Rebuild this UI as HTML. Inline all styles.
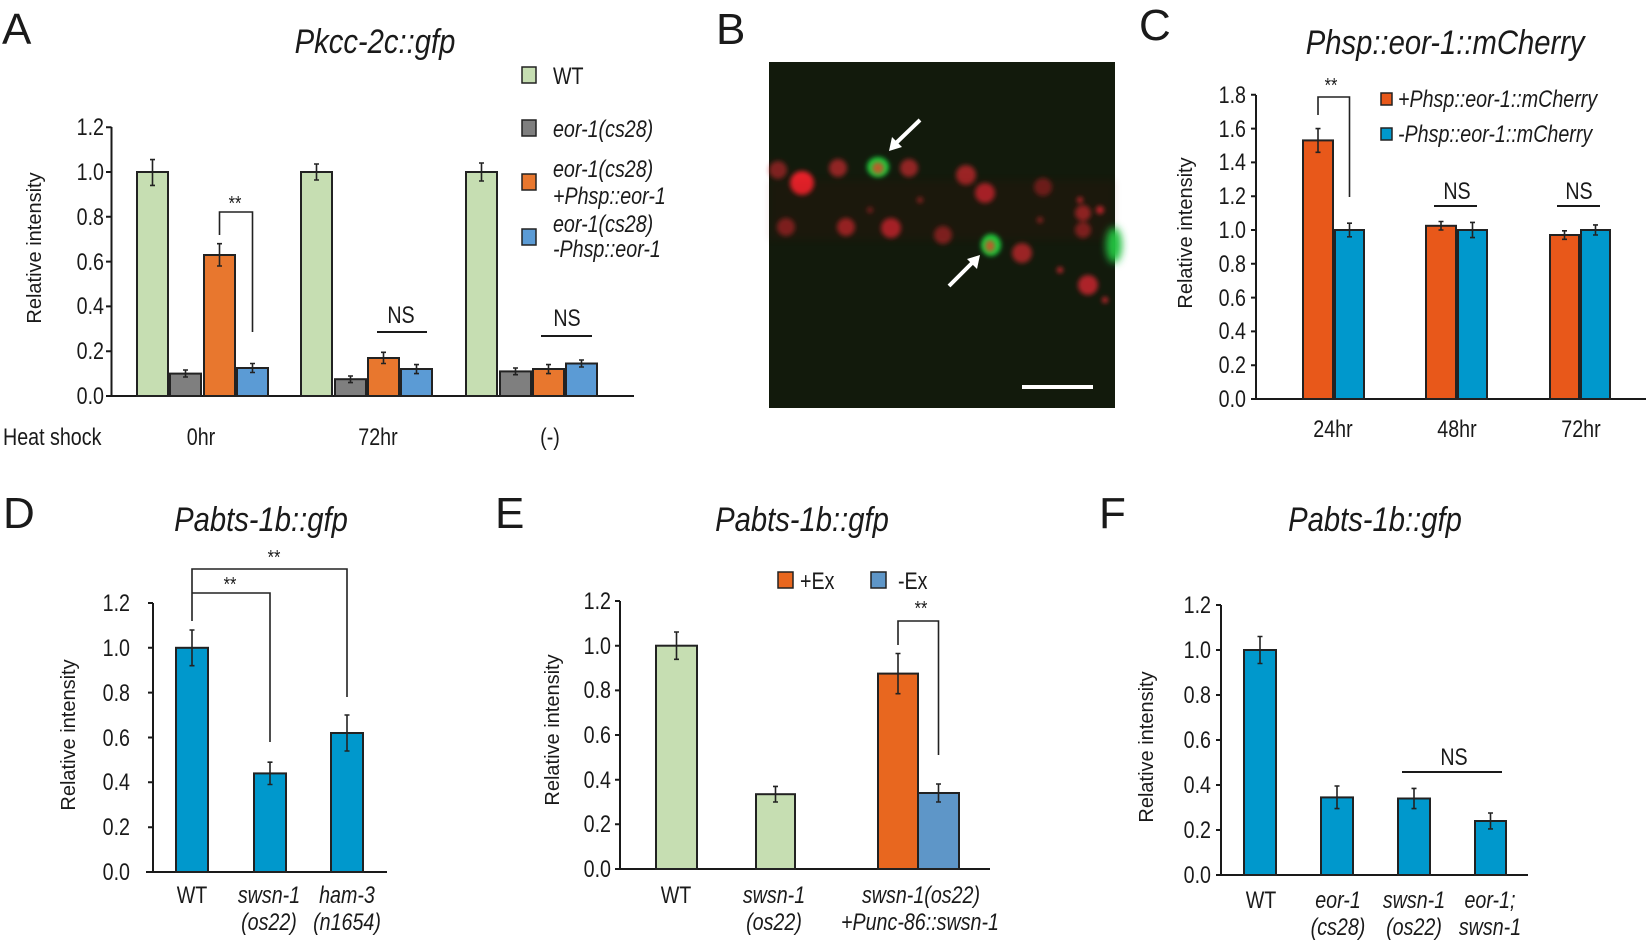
<!DOCTYPE html>
<html><head><meta charset="utf-8"><style>
html,body{margin:0;padding:0;background:#fff}
svg{display:block}
text{font-family:"Liberation Sans Narrow","Liberation Sans",sans-serif;fill:#1a1a1a}
.t,.ts,.te{font-size:24px;transform-box:fill-box;transform:scaleX(.82)}
.t{transform-origin:center}
.ts{transform-origin:left center}
.te{transform-origin:right center}
.i{font-style:italic}
.ttl{font-size:34px;font-style:italic;transform-box:fill-box;transform-origin:center;transform:scaleX(.86)}
.big{font-family:"Liberation Sans",sans-serif;font-size:44px}
.yl{font-family:"Liberation Sans",sans-serif;font-size:20px}
.ax{stroke:#1a1a1a;stroke-width:2;fill:none}
.b{stroke:#222;stroke-width:2}
.e{stroke:#222;stroke-width:1.6;fill:none}
.br{stroke:#222;stroke-width:1.6;fill:none}
</style></head><body>
<svg width="1650" height="945" viewBox="0 0 1650 945" xmlns="http://www.w3.org/2000/svg">
<defs>
<filter id="bl" x="-50%" y="-50%" width="200%" height="200%"><feGaussianBlur stdDeviation="2.5"/></filter>
<filter id="bl2" x="-50%" y="-50%" width="200%" height="200%"><feGaussianBlur stdDeviation="4"/></filter>
</defs>

<!-- ===== Panel A ===== -->
<text class="big" x="2" y="44">A</text>
<text class="ttl" x="375" y="53" text-anchor="middle">Pkcc-2c::gfp</text>
<text class="yl" transform="translate(41,248) rotate(-90)" text-anchor="middle">Relative intensity</text>
<path class="ax" d="M111.5,127 V396 M109,396 H634"/>
<path class="ax" d="M106,396H111.5M106,351.2H111.5M106,306.4H111.5M106,261.6H111.5M106,216.8H111.5M106,172H111.5M106,127.2H111.5"/>
<g text-anchor="end">
<text class="te" x="104" y="404">0.0</text><text class="te" x="104" y="359">0.2</text><text class="te" x="104" y="314">0.4</text><text class="te" x="104" y="270">0.6</text><text class="te" x="104" y="225">0.8</text><text class="te" x="104" y="180">1.0</text><text class="te" x="104" y="135">1.2</text>
</g>
<g class="b">
<rect x="137" y="172" width="31" height="224" fill="#c6deb2"/>
<rect x="170" y="373.6" width="31" height="22.4" fill="#7f7f7f"/>
<rect x="204" y="255" width="31" height="141" fill="#e8772e"/>
<rect x="237" y="368" width="31" height="28" fill="#5b9bd5"/>
<rect x="301" y="172" width="31" height="224" fill="#c6deb2"/>
<rect x="335" y="379.2" width="31" height="16.8" fill="#7f7f7f"/>
<rect x="368" y="358" width="31" height="38" fill="#e8772e"/>
<rect x="401" y="369" width="31" height="27" fill="#5b9bd5"/>
<rect x="466" y="172" width="31" height="224" fill="#c6deb2"/>
<rect x="500" y="371.4" width="31" height="24.6" fill="#7f7f7f"/>
<rect x="533" y="369" width="31" height="27" fill="#e8772e"/>
<rect x="566" y="363.5" width="31" height="32.5" fill="#5b9bd5"/>
</g>
<path class="e" d="M152.5,159.6V185.4M150,159.6h5M150,185.4h5
M185.5,370V377M183,370h5M183,377h5
M219.5,243.7V266M217,243.7h5M217,266h5
M252.5,363.5V372.5M250,363.5h5M250,372.5h5
M316.5,164V180M314,164h5M314,180h5
M350.5,376V382.6M348,376h5M348,382.6h5
M383.5,352.3V363.5M381,352.3h5M381,363.5h5
M416.5,364.6V373.6M414,364.6h5M414,373.6h5
M481.5,163V181M479,163h5M479,181h5
M515.5,368V374.7M513,368h5M513,374.7h5
M548.5,364.6V373.6M546,364.6h5M546,373.6h5
M581.5,360V367M579,360h5M579,367h5"/>
<path class="br" d="M219.5,235V212H252.5V332"/>
<text class="t" x="235" y="210" text-anchor="middle" style="font-size:20px">**</text>
<path class="ax" d="M377,332H427M541,336H592"/>
<text class="t" x="401" y="323" text-anchor="middle">NS</text>
<text class="t" x="567" y="326" text-anchor="middle">NS</text>
<text class="ts" x="3" y="445">Heat shock</text>
<text class="t" x="201" y="445" text-anchor="middle">0hr</text>
<text class="t" x="378" y="445" text-anchor="middle">72hr</text>
<text class="t" x="550" y="445" text-anchor="middle">(-)</text>
<g class="b" style="stroke-width:1.5">
<rect x="522" y="67" width="14" height="16" fill="#c6deb2"/>
<rect x="522" y="120" width="14" height="16" fill="#7f7f7f"/>
<rect x="522" y="174" width="14" height="16" fill="#e8772e"/>
<rect x="522" y="229" width="14" height="16" fill="#5b9bd5"/>
</g>
<text class="ts" x="553" y="84">WT</text>
<text class="ts i" x="553" y="137">eor-1(cs28)</text>
<text class="ts i" x="553" y="177">eor-1(cs28)</text>
<text class="ts i" x="553" y="204">+Phsp::eor-1</text>
<text class="ts i" x="553" y="232">eor-1(cs28)</text>
<text class="ts i" x="553" y="257">-Phsp::eor-1</text>

<!-- ===== Panel B ===== -->
<text class="big" x="716" y="44">B</text>
<rect x="769" y="62" width="346" height="346" fill="#121a0c"/>
<g filter="url(#bl)" fill="#c8262e">
<circle cx="778" cy="170" r="9" opacity=".6"/>
<circle cx="802" cy="183" r="12" fill="#e8202a"/>
<circle cx="786" cy="227" r="9" opacity=".6"/>
<circle cx="838" cy="168" r="9" opacity=".7"/>
<circle cx="909" cy="168" r="9" opacity=".7"/>
<circle cx="966" cy="175" r="10" opacity=".75"/>
<circle cx="985" cy="193" r="10" opacity=".85"/>
<circle cx="1043" cy="187" r="9" opacity=".5"/>
<circle cx="846" cy="227" r="9" opacity=".75"/>
<circle cx="891" cy="228" r="10" opacity=".85"/>
<circle cx="943" cy="235" r="9" opacity=".6"/>
<circle cx="1022" cy="253" r="10" opacity=".75"/>
<circle cx="1083" cy="230" r="8" opacity=".6"/>
<circle cx="1083" cy="213" r="8" opacity=".7"/>
<circle cx="1088" cy="285" r="10" opacity=".85"/>
<circle cx="1100" cy="210" r="4"/>
<circle cx="1080" cy="200" r="3"/>
<circle cx="1060" cy="270" r="3"/>
<circle cx="1040" cy="220" r="3" opacity=".7"/>
<circle cx="920" cy="200" r="3" opacity=".7"/>
<circle cx="870" cy="210" r="3" opacity=".6"/>
<circle cx="1105" cy="300" r="3"/>
</g>
<rect x="769" y="180" width="346" height="60" fill="#6a1010" opacity=".1" filter="url(#bl2)"/>
<g>
<ellipse cx="878" cy="167" rx="11" ry="10" fill="#1ec83a" filter="url(#bl)"/>
<ellipse cx="878" cy="168" rx="6" ry="6" fill="#b8602a" filter="url(#bl)"/>
<ellipse cx="991" cy="245" rx="10" ry="11" fill="#1ec83a" filter="url(#bl)"/>
<ellipse cx="990" cy="246" rx="5" ry="6" fill="#b8602a" filter="url(#bl)"/>
<ellipse cx="1114" cy="245" rx="8" ry="18" fill="#20c040" filter="url(#bl2)"/>
</g>
<path d="M920,120L894,145" stroke="#fff" stroke-width="4"/>
<path d="M889,151l3,-14l10,10z" fill="#fff"/>
<path d="M949,286L974,261" stroke="#fff" stroke-width="4"/>
<path d="M980,255l-3,14l-10,-10z" fill="#fff"/>
<rect x="1022" y="385" width="71" height="4" fill="#fff"/>

<!-- ===== Panel C ===== -->
<text class="big" x="1139" y="40">C</text>
<text class="ttl" x="1445" y="54" text-anchor="middle">Phsp::eor-1::mCherry</text>
<text class="yl" transform="translate(1192,233) rotate(-90)" text-anchor="middle">Relative intensity</text>
<path class="ax" d="M1256,95V399M1254,399H1646"/>
<path class="ax" d="M1251,399h5M1251,365.2h5M1251,331.4h5M1251,297.6h5M1251,263.8h5M1251,230h5M1251,196.2h5M1251,162.4h5M1251,128.6h5M1251,94.8h5"/>
<g text-anchor="end">
<text class="te" x="1246" y="407">0.0</text><text class="te" x="1246" y="373">0.2</text><text class="te" x="1246" y="339">0.4</text><text class="te" x="1246" y="306">0.6</text><text class="te" x="1246" y="272">0.8</text><text class="te" x="1246" y="238">1.0</text><text class="te" x="1246" y="204">1.2</text><text class="te" x="1246" y="170">1.4</text><text class="te" x="1246" y="137">1.6</text><text class="te" x="1246" y="103">1.8</text>
</g>
<g class="b">
<rect x="1303" y="140.4" width="30" height="258.6" fill="#e8581a"/>
<rect x="1335" y="230" width="29" height="169" fill="#0098cc"/>
<rect x="1426" y="225.8" width="30" height="173.2" fill="#e8581a"/>
<rect x="1458" y="230" width="29" height="169" fill="#0098cc"/>
<rect x="1550" y="235" width="29" height="164" fill="#e8581a"/>
<rect x="1581" y="230" width="29" height="169" fill="#0098cc"/>
</g>
<path class="e" d="M1318,128.6V152.3M1315.5,128.6h5M1315.5,152.3h5
M1349.5,223.2V236.8M1347,223.2h5M1347,236.8h5
M1441,221.5V230M1438.5,221.5h5M1438.5,230h5
M1472.5,222.4V237.6M1470,222.4h5M1470,237.6h5
M1564.5,230.8V239.3M1562,230.8h5M1562,239.3h5
M1595.5,224.9V235M1593,224.9h5M1593,235h5"/>
<path class="br" d="M1318,115V97H1349.5V197"/>
<text class="t" x="1331" y="92" text-anchor="middle" style="font-size:20px">**</text>
<path class="ax" d="M1434,206H1477M1557,206H1600"/>
<text class="t" x="1457" y="199" text-anchor="middle">NS</text>
<text class="t" x="1579" y="199" text-anchor="middle">NS</text>
<g class="b" style="stroke-width:1.5">
<rect x="1381" y="93" width="11" height="12" fill="#e8581a"/>
<rect x="1381" y="128" width="11" height="12" fill="#0098cc"/>
</g>
<text class="ts i" x="1398" y="107">+Phsp::eor-1::mCherry</text>
<text class="ts i" x="1398" y="142">-Phsp::eor-1::mCherry</text>
<text class="t" x="1333" y="437" text-anchor="middle">24hr</text>
<text class="t" x="1457" y="437" text-anchor="middle">48hr</text>
<text class="t" x="1581" y="437" text-anchor="middle">72hr</text>

<!-- ===== Panel D ===== -->
<text class="big" x="3" y="528">D</text>
<text class="ttl" x="261" y="531" text-anchor="middle">Pabts-1b::gfp</text>
<text class="yl" transform="translate(75,735) rotate(-90)" text-anchor="middle">Relative intensity</text>
<path class="ax" d="M153,603V872M146,872H387"/>
<path class="ax" d="M148,872h5M148,827.2h5M148,782.3h5M148,737.5h5M148,692.6h5M148,647.8h5M148,603h5"/>
<g text-anchor="end">
<text class="te" x="130" y="880">0.0</text><text class="te" x="130" y="835">0.2</text><text class="te" x="130" y="790">0.4</text><text class="te" x="130" y="746">0.6</text><text class="te" x="130" y="701">0.8</text><text class="te" x="130" y="656">1.0</text><text class="te" x="130" y="611">1.2</text>
</g>
<g class="b">
<rect x="176" y="647.8" width="32" height="224.2" fill="#0098cc"/>
<rect x="254" y="773.4" width="32" height="98.6" fill="#0098cc"/>
<rect x="331" y="733" width="32" height="139" fill="#0098cc"/>
</g>
<path class="e" d="M192,630V665.7M189.5,630h5M189.5,665.7h5
M270,762.2V784.5M267.5,762.2h5M267.5,784.5h5
M347,715V751M344.5,715h5M344.5,751h5"/>
<path class="br" d="M192,621V569H347V697M192,593H270V742"/>
<text class="t" x="230" y="591" text-anchor="middle" style="font-size:20px">**</text>
<text class="t" x="274" y="564" text-anchor="middle" style="font-size:20px">**</text>
<text class="t" x="192" y="903" text-anchor="middle">WT</text>
<text class="t i" x="269" y="903" text-anchor="middle">swsn-1</text>
<text class="t i" x="269" y="930" text-anchor="middle">(os22)</text>
<text class="t i" x="347" y="903" text-anchor="middle">ham-3</text>
<text class="t i" x="347" y="930" text-anchor="middle">(n1654)</text>

<!-- ===== Panel E ===== -->
<text class="big" x="495" y="528">E</text>
<text class="ttl" x="802" y="531" text-anchor="middle">Pabts-1b::gfp</text>
<text class="yl" transform="translate(559,730) rotate(-90)" text-anchor="middle">Relative intensity</text>
<path class="ax" d="M620,601V869M616,869H990"/>
<path class="ax" d="M615,869h5M615,824.3h5M615,779.7h5M615,735h5M615,690.4h5M615,645.7h5M615,601h5"/>
<g text-anchor="end">
<text class="te" x="611" y="877">0.0</text><text class="te" x="611" y="832">0.2</text><text class="te" x="611" y="788">0.4</text><text class="te" x="611" y="743">0.6</text><text class="te" x="611" y="698">0.8</text><text class="te" x="611" y="654">1.0</text><text class="te" x="611" y="609">1.2</text>
</g>
<g class="b">
<rect x="656" y="645.7" width="41" height="223.3" fill="#c6deb2"/>
<rect x="756" y="794.2" width="39" height="74.8" fill="#c6deb2"/>
<rect x="878" y="673.6" width="40" height="195.4" fill="#e8671f"/>
<rect x="918" y="793" width="41" height="76" fill="#5e96c8"/>
</g>
<path class="e" d="M676.5,632V659.3M674,632h5M674,659.3h5
M775.5,786.4V802M773,786.4h5M773,802h5
M898,653.5V693.7M895.5,653.5h5M895.5,693.7h5
M938.5,784V802M936,784h5M936,802h5"/>
<path class="br" d="M898,645V621H938.5V755"/>
<text class="t" x="921" y="615" text-anchor="middle" style="font-size:20px">**</text>
<g class="b" style="stroke-width:1.5">
<rect x="778" y="572" width="15" height="16" fill="#e8671f"/>
<rect x="871" y="572" width="15" height="16" fill="#5e96c8"/>
</g>
<text class="ts" x="800" y="589">+Ex</text>
<text class="ts" x="898" y="589">-Ex</text>
<text class="t" x="676" y="903" text-anchor="middle">WT</text>
<text class="t i" x="774" y="903" text-anchor="middle">swsn-1</text>
<text class="t i" x="774" y="930" text-anchor="middle">(os22)</text>
<text class="t i" x="921" y="903" text-anchor="middle">swsn-1(os22)</text>
<text class="t i" x="920" y="930" text-anchor="middle">+Punc-86::swsn-1</text>

<!-- ===== Panel F ===== -->
<text class="big" x="1099" y="528">F</text>
<text class="ttl" x="1375" y="531" text-anchor="middle">Pabts-1b::gfp</text>
<text class="yl" transform="translate(1153,747) rotate(-90)" text-anchor="middle">Relative intensity</text>
<path class="ax" d="M1221,605V875M1216,875H1528"/>
<path class="ax" d="M1216,875h5M1216,830h5M1216,785h5M1216,740h5M1216,695h5M1216,650h5M1216,605h5"/>
<g text-anchor="end">
<text class="te" x="1211" y="883">0.0</text><text class="te" x="1211" y="838">0.2</text><text class="te" x="1211" y="793">0.4</text><text class="te" x="1211" y="748">0.6</text><text class="te" x="1211" y="703">0.8</text><text class="te" x="1211" y="658">1.0</text><text class="te" x="1211" y="613">1.2</text>
</g>
<g class="b">
<rect x="1244" y="650" width="32" height="225" fill="#0098cc"/>
<rect x="1321" y="797.4" width="32" height="77.6" fill="#0098cc"/>
<rect x="1398" y="798.5" width="32" height="76.5" fill="#0098cc"/>
<rect x="1475" y="821" width="31" height="54" fill="#0098cc"/>
</g>
<path class="e" d="M1260,636.5V663.5M1257.5,636.5h5M1257.5,663.5h5
M1337,786V808.6M1334.5,786h5M1334.5,808.6h5
M1414,788.4V808.6M1411.5,788.4h5M1411.5,808.6h5
M1490.5,813V828.9M1488,813h5M1488,828.9h5"/>
<path class="ax" d="M1402,772H1502"/>
<text class="t" x="1454" y="765" text-anchor="middle">NS</text>
<text class="t" x="1261" y="908" text-anchor="middle">WT</text>
<text class="t i" x="1338" y="908" text-anchor="middle">eor-1</text>
<text class="t i" x="1338" y="935" text-anchor="middle">(cs28)</text>
<text class="t i" x="1414" y="908" text-anchor="middle">swsn-1</text>
<text class="t i" x="1414" y="935" text-anchor="middle">(os22)</text>
<text class="t i" x="1490" y="908" text-anchor="middle">eor-1;</text>
<text class="t i" x="1490" y="935" text-anchor="middle">swsn-1</text>
</svg>
</body></html>
